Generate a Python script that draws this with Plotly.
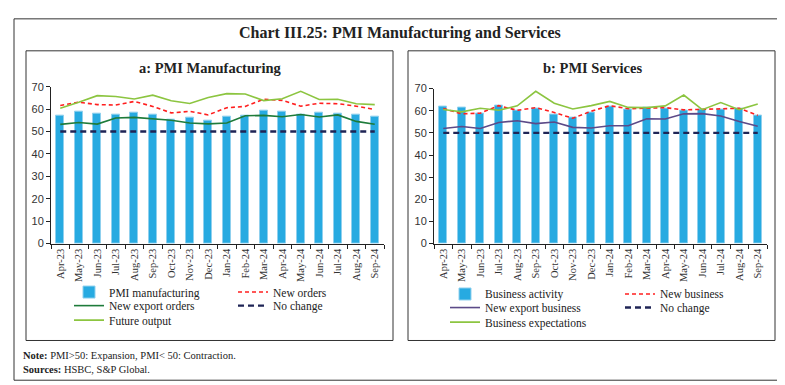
import plotly.graph_objects as go

months = ["Apr-23", "May-23", "Jun-23", "Jul-23", "Aug-23", "Sep-23", "Oct-23", "Nov-23", "Dec-23",
          "Jan-24", "Feb-24", "Mar-24", "Apr-24", "May-24", "Jun-24", "Jul-24", "Aug-24", "Sep-24"]

# Panel a: PMI Manufacturing
pmi_manufacturing = [57.2, 58.7, 57.8, 57.7, 58.6, 57.5, 55.5, 56.0, 54.9, 56.5, 56.9, 59.1, 58.8, 57.5, 58.3, 58.1, 57.5, 56.5]
new_orders = [61.6, 63.1, 62.0, 61.8, 63.4, 61.2, 58.3, 59.0, 57.4, 60.6, 61.2, 64.4, 63.9, 61.3, 62.6, 62.4, 61.3, 59.8]
new_export_orders = [53.2, 54.0, 53.3, 56.0, 56.3, 55.7, 55.0, 53.8, 53.4, 53.8, 57.0, 57.2, 56.6, 57.6, 56.5, 57.4, 54.5, 53.2]
future_output = [60.4, 63.0, 66.0, 65.6, 64.5, 66.2, 63.7, 62.5, 65.2, 66.9, 66.7, 63.8, 64.6, 67.9, 64.3, 64.4, 62.4, 62.0]

# Panel b: PMI Services
business_activity = [62.0, 61.2, 58.5, 62.3, 60.1, 61.0, 58.4, 56.9, 59.0, 61.8, 60.6, 61.2, 60.8, 60.2, 60.5, 60.3, 60.9, 57.7]
new_business = [61.0, 58.6, 58.9, 62.3, 60.2, 61.4, 59.2, 56.6, 59.8, 62.3, 60.9, 61.2, 61.4, 60.4, 60.6, 60.9, 61.1, 57.9]
new_export_business = [52.0, 52.9, 52.0, 54.7, 55.5, 54.2, 54.9, 52.5, 52.2, 53.2, 53.2, 56.4, 56.3, 58.6, 58.7, 57.6, 55.1, 53.0]
business_expectations = [60.6, 59.5, 61.1, 60.2, 62.2, 68.8, 63.4, 60.8, 62.3, 64.2, 61.5, 61.4, 62.2, 67.1, 60.5, 63.7, 60.5, 63.0]

no_change = [50] * len(months)

y_ticks = [0, 10, 20, 30, 40, 50, 60, 70]

W, H = 785, 385
SERIF = "Liberation Serif"
SANS = "Liberation Sans"

BAR = "#27AAE1"
BAR_EDGE = "#8FD0EE"
RED = "#FF1F1F"
DKGREEN = "#1E7B3A"
LTGREEN = "#8CC540"
NAVY = "#1F2556"
PURPLE = "#5C4A88"


def px(x):
    return x / W


def py(y):
    return 1 - y / H


fig = go.Figure()

legend_slots = {}


def add_panel(xa, ya, bars, bars_name, red, red_name, dark, dark_name, dark_color, light, light_name, leg_base, leg_pos):
    fig.add_trace(go.Bar(x=months, y=bars, name=bars_name, marker=dict(color=BAR, line=dict(color=BAR_EDGE, width=1)),
                         width=0.42, xaxis=xa, yaxis=ya, legend=leg_base[0]))
    fig.add_trace(go.Scatter(x=months, y=red, name=red_name, mode="lines",
                             line=dict(color=RED, width=1.6, dash="4px,3px"), xaxis=xa, yaxis=ya, legend=leg_base[1]))
    fig.add_trace(go.Scatter(x=months, y=dark, name=dark_name, mode="lines",
                             line=dict(color=dark_color, width=1.6), xaxis=xa, yaxis=ya, legend=leg_base[2]))
    fig.add_trace(go.Scatter(x=months, y=no_change, name="No change", mode="lines",
                             line=dict(color=NAVY, width=2.4, dash="6px,4px"), xaxis=xa, yaxis=ya, legend=leg_base[3]))
    fig.add_trace(go.Scatter(x=months, y=light, name=light_name, mode="lines",
                             line=dict(color=LTGREEN, width=1.6), xaxis=xa, yaxis=ya, legend=leg_base[4]))
    for lg, (tx, ty) in zip(leg_base, leg_pos):
        legend_slots[lg] = (tx, ty)


# (text start x, row center y) in pixels
add_panel("x", "y", pmi_manufacturing, "PMI manufacturing", new_orders, "New orders",
          new_export_orders, "New export orders", DKGREEN, future_output, "Future output",
          ["legend", "legend2", "legend3", "legend4", "legend5"],
          [(110, 292), (274, 292), (110, 306), (274, 306), (110, 321)])
add_panel("x2", "y2", business_activity, "Business activity", new_business, "New business",
          new_export_business, "New export business", PURPLE, business_expectations, "Business expectations",
          ["legend6", "legend7", "legend8", "legend9", "legend10"],
          [(486, 294), (661, 294), (486, 308), (661, 308), (486, 323)])

layout = dict(
    width=W, height=H,
    margin=dict(l=0, r=0, t=0, b=0),
    paper_bgcolor="white", plot_bgcolor="white",
    font=dict(family=SERIF, size=11, color="#222"),
    bargap=0,
    showlegend=True,
)

xcommon = dict(type="category", showline=True, linecolor="#222", linewidth=1, ticks="outside",
               tickson="boundaries", ticklen=4, tickcolor="#222", tickangle=-90,
               tickfont=dict(family=SERIF, size=10.5, color="#333"), showgrid=False, zeroline=False,
               range=[-0.5, len(months) - 0.5])
ycommon = dict(range=[0, 70], tickvals=y_ticks, showline=True, linecolor="#222", linewidth=1, ticks="outside",
               ticklen=4, tickcolor="#222", tickfont=dict(family=SANS, size=11, color="#333"),
               showgrid=False, zeroline=False)

layout["xaxis"] = dict(xcommon, domain=[px(43), px(376)], anchor="y")
layout["yaxis"] = dict(ycommon, domain=[py(237), py(75)], anchor="x")
layout["xaxis2"] = dict(xcommon, domain=[px(426), px(759)], anchor="y2")
layout["yaxis2"] = dict(ycommon, domain=[py(237), py(77)], anchor="x2")

for lg, (tx, ty) in legend_slots.items():
    layout[lg] = dict(x=px(tx - 49), y=py(ty - 5), xanchor="left", yanchor="middle", orientation="v",
                      bgcolor="rgba(0,0,0,0)", borderwidth=0, font=dict(family=SERIF, size=11.5, color="#222"),
                      itemwidth=30, tracegroupgap=0, visible=True)

fig.update_layout(**layout)

shapes = [
    dict(type="rect", xref="paper", yref="paper", x0=px(6), x1=px(777), y0=py(378), y1=py(5),
         line=dict(color="#333", width=1)),
    dict(type="rect", xref="paper", yref="paper", x0=px(18), x1=px(385), y0=py(337), y1=py(38),
         line=dict(color="#333", width=1)),
    dict(type="rect", xref="paper", yref="paper", x0=px(400), x1=px(767), y0=py(337), y1=py(38),
         line=dict(color="#333", width=1)),
]
fig.update_layout(shapes=shapes)

annotations = [
    dict(text="<b>Chart III.25: PMI Manufacturing and Services</b>", x=px(392), y=py(20), xref="paper", yref="paper",
         showarrow=False, xanchor="center", yanchor="middle", font=dict(family=SERIF, size=16, color="#222")),
    dict(text="<b>a: PMI Manufacturing</b>", x=px(202), y=py(56), xref="paper", yref="paper",
         showarrow=False, xanchor="center", yanchor="middle", font=dict(family=SERIF, size=14.5, color="#222")),
    dict(text="<b>b: PMI Services</b>", x=px(584), y=py(56), xref="paper", yref="paper",
         showarrow=False, xanchor="center", yanchor="middle", font=dict(family=SERIF, size=14.5, color="#222")),
    dict(text="<b>Note:</b> PMI>50: Expansion, PMI< 50: Contraction.", x=px(13), y=py(353), xref="paper",
         yref="paper", showarrow=False, xanchor="left", yanchor="middle", font=dict(family=SERIF, size=10.5, color="#222")),
    dict(text="<b>Sources:</b> HSBC, S&P Global.", x=px(13), y=py(367), xref="paper",
         yref="paper", showarrow=False, xanchor="left", yanchor="middle", font=dict(family=SERIF, size=10.5, color="#222")),
]
fig.update_layout(annotations=annotations)

fig.write_html("out.html")
